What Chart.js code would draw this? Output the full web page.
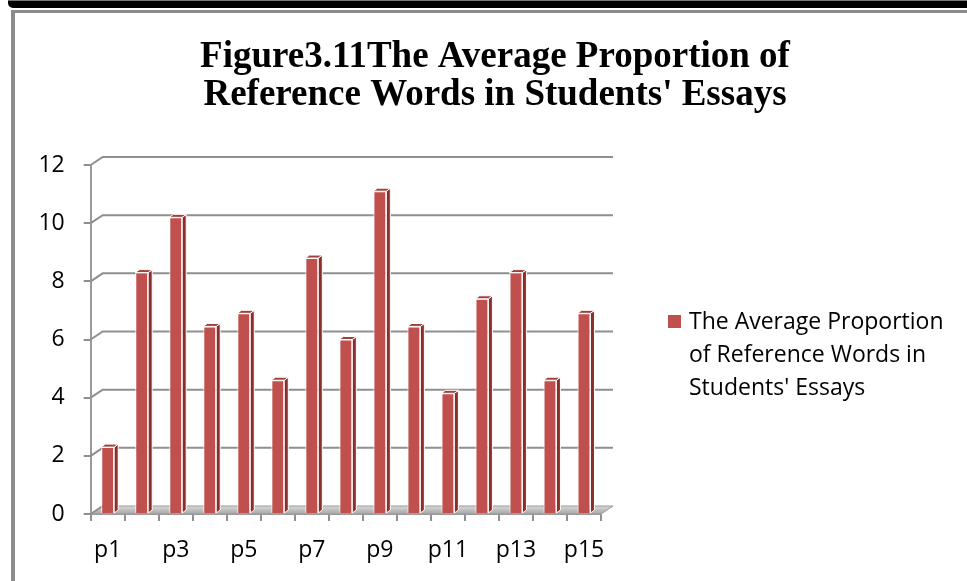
<!DOCTYPE html>
<html>
<head>
<meta charset="utf-8">
<script src="https://cdn.jsdelivr.net/npm/chart.js@4"></script>
<style>
  html, body { margin: 0; padding: 0; background: #fff; }
  .wrap { position: relative; width: 967px; height: 581px; overflow: hidden; }
  .band { position: absolute; left: 8px; right: -10px; top: 0; height: 8px; background: #000; border-top: 1px solid #777; border-bottom-left-radius: 5px; box-sizing: border-box; }
  .frame { position: absolute; left: 11px; top: 10px; right: -20px; bottom: -20px; border-left: 4px solid #8c8c8c; border-top: 3px solid #8c8c8c; }
  canvas { position: absolute; left: 0; top: 0; }
</style>
</head>
<body>
<div class="wrap">
  <div class="band"></div>
  <div class="frame"></div>
  <canvas id="chart" width="967" height="581"></canvas>
</div>
<script>
// Chart data
const categories = ["p1", "p2", "p3", "p4", "p5", "p6", "p7", "p8", "p9", "p10", "p11", "p12", "p13", "p14", "p15"];
const proportions = [2.3, 8.3, 10.2, 6.45, 6.9, 4.6, 8.8, 6.0, 11.1, 6.45, 4.15, 7.4, 8.3, 4.6, 6.9];
const seriesLabel = "The Average Proportion of Reference Words in Students' Essays";
const titleLines = ["Figure3.11The Average Proportion of", "Reference Words in Students' Essays"];
const yMin = 0;
const yMax = 12;
const yStep = 2;

const barColor = "#C0504D";
const sideColor = "#8A2E2B";
const topColor = "#A0403D";
const gridColor = "#8f8f8f";
const labelFont = "Open Sans";
const labelSize = 23;
const DX = 12, DY = -8; // depth of the 3D back wall

// Back wall grid lines and floor, drawn behind the bars
const wallPlugin = {
  id: "wall",
  beforeDatasetsDraw(chart) {
    const { ctx, chartArea, scales } = chart;
    const y = scales.y;
    ctx.save();
    // floor
    const base = y.getPixelForValue(0);
    const grad = ctx.createLinearGradient(0, base + DY, 0, base);
    grad.addColorStop(0, "#d9d9d9");
    grad.addColorStop(1, "#a6a6a6");
    ctx.fillStyle = grad;
    ctx.beginPath();
    ctx.moveTo(chartArea.left, base);
    ctx.lineTo(chartArea.right, base);
    ctx.lineTo(chartArea.right + DX, base + DY);
    ctx.lineTo(chartArea.left + DX, base + DY);
    ctx.closePath();
    ctx.fill();
    ctx.strokeStyle = "#9a9a9a";
    ctx.lineWidth = 1;
    ctx.stroke();
    // grid lines on the back wall
    ctx.strokeStyle = gridColor;
    ctx.lineWidth = 2;
    y.ticks.forEach((t) => {
      const py = y.getPixelForValue(t.value);
      ctx.beginPath();
      ctx.moveTo(chartArea.left, py);
      ctx.lineTo(chartArea.left + DX, py + DY);
      if (t.value !== yMin) ctx.lineTo(chartArea.right + DX, py + DY);
      ctx.stroke();
    });
    ctx.restore();
  },
  afterDatasetsDraw(chart) {
    const { ctx } = chart;
    const meta = chart.getDatasetMeta(0);
    ctx.save();
    ctx.strokeStyle = "#ffffff";
    ctx.lineWidth = 1;
    meta.data.forEach((bar) => {
      const { x, y, base, width } = bar.getProps(["x", "y", "base", "width"], true);
      const l = x - width / 2;
      const r = x + width / 2;
      // right side face
      ctx.fillStyle = sideColor;
      ctx.beginPath();
      ctx.moveTo(r, y);
      ctx.lineTo(r + 4, y - 3);
      ctx.lineTo(r + 4, base - 3);
      ctx.lineTo(r, base);
      ctx.closePath();
      ctx.fill();
      ctx.stroke();
      // top face
      ctx.fillStyle = topColor;
      ctx.beginPath();
      ctx.moveTo(l, y);
      ctx.lineTo(l + 4, y - 3);
      ctx.lineTo(r + 4, y - 3);
      ctx.lineTo(r, y);
      ctx.closePath();
      ctx.fill();
      ctx.stroke();
    });
    ctx.restore();
  },
};

// Two-line title centred on the whole figure
const titlePlugin = {
  id: "bigTitle",
  afterDraw(chart) {
    const { ctx } = chart;
    ctx.save();
    ctx.font = "bold 37px 'Liberation Serif'";
    ctx.fillStyle = "#000";
    ctx.textAlign = "center";
    ctx.textBaseline = "alphabetic";
    titleLines.forEach((t, i) => ctx.fillText(t, 495, 67 + i * 38));
    ctx.restore();
  },
};

// Legend with wrapped text on the right
const wrapLegendPlugin = {
  id: "wrapLegend",
  afterDraw(chart) {
    const { ctx } = chart;
    const left = chart.chartArea.right + 67;
    const textX = left + 21;
    const maxW = 262;
    ctx.save();
    ctx.font = labelSize + "px '" + labelFont + "'";
    ctx.fillStyle = barColor;
    ctx.fillRect(left, 315, 13, 13);
    const words = seriesLabel.split(" ");
    const lines = [];
    let line = "";
    words.forEach((w) => {
      const test = line ? line + " " + w : w;
      if (ctx.measureText(test).width > maxW && line) {
        lines.push(line);
        line = w;
      } else {
        line = test;
      }
    });
    lines.push(line);
    ctx.fillStyle = "#000";
    ctx.textBaseline = "alphabetic";
    lines.forEach((ln, i) => ctx.fillText(ln, textX, 329 + i * 33));
    ctx.restore();
  },
};

const ctx = document.getElementById("chart").getContext("2d");
new Chart(ctx, {
  type: "bar",
  data: {
    labels: categories,
    datasets: [
      {
        label: seriesLabel,
        data: proportions,
        backgroundColor: barColor,
        borderColor: "#ffffff",
        borderWidth: 1,
        barPercentage: 0.38,
        categoryPercentage: 1,
      },
    ],
  },
  options: {
    responsive: false,
    animation: false,
    layout: {
      padding: { left: 23, right: 366, top: 165, bottom: 0 },
    },
    scales: {
      x: {
        afterFit: (scale) => { scale.height = 67; },
        grid: {
          offset: true,
          drawOnChartArea: false,
          drawTicks: true,
          tickLength: 7,
          color: gridColor,
          lineWidth: 2,
        },
        border: { display: true, color: "#9a9a9a", width: 2 },
        ticks: {
          autoSkip: false,
          maxRotation: 0,
          padding: 16,
          color: "#000",
          font: { family: labelFont, size: labelSize },
          callback: (val, i) => (i % 2 === 0 ? categories[i] : ""),
        },
      },
      y: {
        min: yMin,
        max: yMax,
        afterFit: (scale) => { scale.width = 67.7; },
        grid: {
          drawOnChartArea: false,
          drawTicks: true,
          tickLength: 7,
          color: gridColor,
          lineWidth: 2,
        },
        border: { display: true, color: "#9a9a9a", width: 2 },
        ticks: {
          stepSize: yStep,
          padding: 19,
          color: "#000",
          font: { family: labelFont, size: labelSize },
        },
      },
    },
    plugins: {
      legend: { display: false },
      tooltip: { enabled: false },
      title: { display: false },
    },
  },
  plugins: [wallPlugin, titlePlugin, wrapLegendPlugin],
});
</script>
</body>
</html>
